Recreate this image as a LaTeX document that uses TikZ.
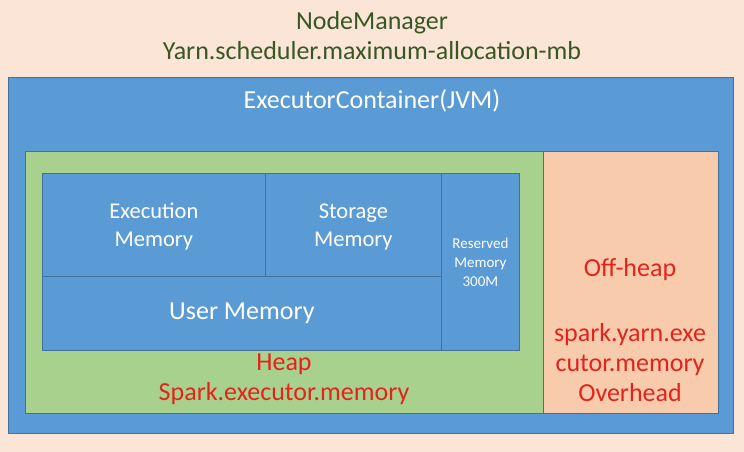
\documentclass[tikz,border=0pt]{standalone}
\usepackage{fontspec}
\setmainfont{Carlito}
\definecolor{peach}{HTML}{FBE5D6}
\definecolor{salmon}{HTML}{F8CBAD}
\definecolor{leaf}{HTML}{A9D18E}
\definecolor{office}{HTML}{5B9BD5}
\definecolor{edge}{HTML}{41719C}
\definecolor{alert}{HTML}{E3231C}
\definecolor{olive}{HTML}{385723}
\begin{document}
\begin{tikzpicture}[x=1pt, y=-1pt,
    box/.style={rectangle, draw=edge, line width=0.8pt, anchor=north west,
    inner sep=0pt, text=white, align=center},
    memory/.style={box, fill=office, font=\fontsize{22.5}{28}\selectfont},
    label/.style={align=center, inner sep=0pt, font=\fontsize{26}{30}\selectfont}]

\fill [peach] (0,0) rectangle (744,452);
\useasboundingbox (0,0) rectangle (744,452);

\node [label, text=olive] (manager) at (372,36) {NodeManager\\Yarn.scheduler.maximum-allocation-mb};

\node [box, fill=office, minimum width=725pt, minimum height=356pt] (container) at (8,77) {};
\node [label, text=white] (jvm) at (372,101) {ExecutorContainer(JVM)};

\node [box, fill=leaf, minimum width=518pt, minimum height=262pt] (heap) at (25,151) {};
\node [box, fill=salmon, minimum width=175pt, minimum height=262pt] (offheap) at (543,151) {};

\node [memory, minimum width=223pt, minimum height=103pt, text depth=0pt] (execution) at (42,173) {Execution\\Memory};
\node [memory, minimum width=176pt, minimum height=103pt, text depth=0pt] (storage) at (265,173) {Storage\\Memory};
\node [memory, minimum width=399pt, minimum height=74pt, font=\fontsize{26}{30}\selectfont] (user) at (42,276) {User Memory};
\node [memory, minimum width=78pt, minimum height=177pt, font=\fontsize{15}{19}\selectfont] (reserved) at (441,173) {Reserved\\Memory\\300M};

\node [label, text=alert] (heaplabel) at (284,379) {Heap\\Spark.executor.memory};
\node [label, text=alert] (offlabel) at (630,270) {Off-heap};
\node [label, text=alert] (overhead) at (630,363) {spark.yarn.exe\\cutor.memory\\Overhead};
\end{tikzpicture}
\end{document}
